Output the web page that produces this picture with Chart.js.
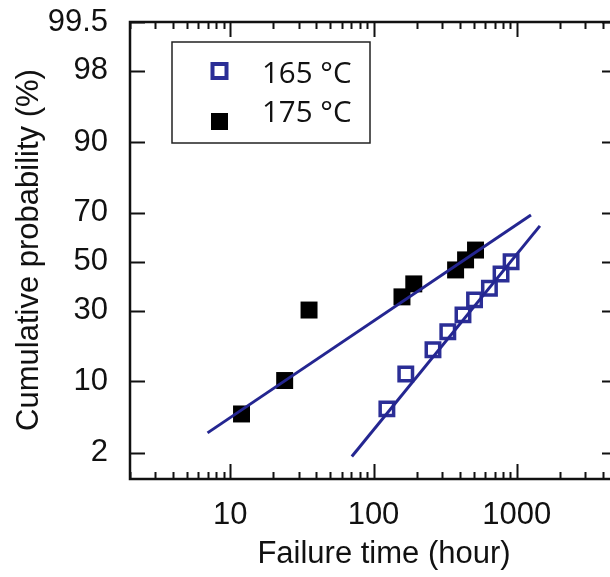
<!DOCTYPE html>
<html>
<head>
<meta charset="utf-8">
<script src="https://cdn.jsdelivr.net/npm/chart.js@4.4.1/dist/chart.umd.min.js"></script>
<style>
  html, body { margin: 0; padding: 0; background: #fff; overflow: hidden; }
  #wrap { width: 640px; height: 577px; }
</style>
</head>
<body>
<div id="wrap"><canvas id="myChart" width="640" height="577"></canvas></div>
<script>
// series names
const temps = ["165 °C", "175 °C"];

// 165 °C: failure time (hour) and cumulative probability (%)
const time165 = [124, 168, 260, 330, 421, 507, 644, 776, 912];
const prob165 = [5.7, 11.4, 17.2, 22.6, 28.4, 34.1, 38.8, 44.8, 50.0];

// 175 °C
const time175 = [12, 24, 35.5, 158, 191, 374, 439, 515];
const prob175 = [5.1, 10.1, 30.2, 35.3, 40.6, 46.5, 50.8, 55.0];

// fitted lines (end points)
const fit165Time = [70.6, 1449];
const fit165Prob = [1.82, 65];
const fit175Time = [6.95, 1255];
const fit175Prob = [3.3, 69.2];

// axis ticks
const xTicks = [10, 100, 1000];
const yTicks = [2, 10, 30, 50, 70, 90, 98, 99.5];
const xRange = [2, 5000];
const yRange = [0.98, 99.5];

const blue = "rgb(43, 46, 150)";
const lineBlue = "rgb(36, 38, 145)";
const tickFont = { family: '"Liberation Sans", Arial, sans-serif', size: 31 };

// inverse normal CDF (Acklam) -> probability paper scale
function probit(p) {
  const a = [-39.69683028665376, 220.9460984245205, -275.9285104469687, 138.357751867269, -30.66479806614716, 2.506628277459239];
  const b = [-54.47609879822406, 161.5858368580409, -155.6989798598866, 66.80131188771972, -13.28068155288572];
  const c = [-0.007784894002430293, -0.3223964580411365, -2.400758277161838, -2.549732539343734, 4.374664141464968, 2.938163982698783];
  const d = [0.007784695709041462, 0.3224671290700398, 2.445134137142996, 3.754408661907416];
  const pl = 0.02425;
  let q, r;
  if (p < pl) {
    q = Math.sqrt(-2 * Math.log(p));
    return (((((c[0] * q + c[1]) * q + c[2]) * q + c[3]) * q + c[4]) * q + c[5]) / ((((d[0] * q + d[1]) * q + d[2]) * q + d[3]) * q + 1);
  }
  if (p > 1 - pl) {
    q = Math.sqrt(-2 * Math.log(1 - p));
    return -(((((c[0] * q + c[1]) * q + c[2]) * q + c[3]) * q + c[4]) * q + c[5]) / ((((d[0] * q + d[1]) * q + d[2]) * q + d[3]) * q + 1);
  }
  q = p - 0.5;
  r = q * q;
  return (((((a[0] * r + a[1]) * r + a[2]) * r + a[3]) * r + a[4]) * r + a[5]) * q / (((((b[0] * r + b[1]) * r + b[2]) * r + b[3]) * r + b[4]) * r + 1);
}

const toPoints = (times, probs) => times.map((t, i) => ({ x: t, y: probit(probs[i] / 100) }));

// frame, inward ticks, axis titles and legend
const decor = {
  id: "decor",
  beforeDatasetsDraw(chart) {
    const { ctx, chartArea: a, scales } = chart;
    const xs = scales.x, ys = scales.y;
    ctx.save();
    ctx.strokeStyle = "#111";
    ctx.lineWidth = 2;
    // x ticks top and bottom
    for (let dec = 1; dec <= 1000; dec *= 10) {
      for (let m = 1; m <= 9; m++) {
        const v = m * dec;
        if (v < xRange[0] || v > xRange[1]) continue;
        const px = Math.round(xs.getPixelForValue(v)) + 0.5;
        const len = m === 1 ? 15 : 7;
        ctx.beginPath();
        ctx.moveTo(px, a.bottom); ctx.lineTo(px, a.bottom - len);
        ctx.moveTo(px, a.top); ctx.lineTo(px, a.top + len);
        ctx.stroke();
      }
    }
    // y ticks left and right
    yTicks.forEach((p) => {
      const py = Math.round(ys.getPixelForValue(probit(p / 100))) + 0.5;
      ctx.beginPath();
      ctx.moveTo(a.left, py); ctx.lineTo(a.left + 15, py);
      ctx.moveTo(a.right, py); ctx.lineTo(a.right - 15, py);
      ctx.stroke();
    });
    ctx.lineWidth = 2.5;
    ctx.strokeRect(a.left, a.top, a.right - a.left, a.bottom - a.top);

    // axis titles
    ctx.fillStyle = "#111";
    ctx.font = '31px "Liberation Sans", Arial, sans-serif';
    ctx.textAlign = "center";
    ctx.textBaseline = "middle";
    ctx.fillText("Failure time (hour)", 384, 554);
    ctx.translate(29, 250);
    ctx.rotate(-Math.PI / 2);
    ctx.fillText("Cumulative probability (%)", 0, 0);
    ctx.restore();
  },
  afterDraw(chart) {
    const { ctx } = chart;
    ctx.save();
    ctx.fillStyle = "#fff";
    ctx.fillRect(172, 42, 198, 101);
    ctx.strokeStyle = "#222";
    ctx.lineWidth = 1.5;
    ctx.strokeRect(172, 42, 198, 101);
    // 165 marker: open blue square
    ctx.strokeStyle = blue;
    ctx.lineWidth = 4;
    ctx.strokeRect(212.5, 64, 14, 14);
    // 175 marker: filled black square
    ctx.fillStyle = "#000";
    ctx.fillRect(211, 113, 17, 17);
    ctx.fillStyle = "#111";
    ctx.font = '29.5px "Open Sans", sans-serif';
    ctx.textAlign = "left";
    ctx.textBaseline = "alphabetic";
    ctx.fillText(temps[0], 262, 83);
    ctx.fillText(temps[1], 262, 122);
    ctx.restore();
  },
};

const ctx = document.getElementById("myChart").getContext("2d");
new Chart(ctx, {
  type: "scatter",
  data: {
    datasets: [
      {
        label: temps[0] + " fit",
        type: "line",
        data: toPoints(fit165Time, fit165Prob),
        borderColor: lineBlue,
        borderWidth: 3,
        pointRadius: 0,
        fill: false,
      },
      {
        label: temps[1] + " fit",
        type: "line",
        data: toPoints(fit175Time, fit175Prob),
        borderColor: lineBlue,
        borderWidth: 3,
        pointRadius: 0,
        fill: false,
      },
      {
        label: temps[0],
        data: toPoints(time165, prob165),
        pointStyle: "rect",
        pointRadius: 9.5,
        pointBorderWidth: 3.5,
        pointBorderColor: blue,
        pointBackgroundColor: "rgba(255,255,255,0)",
      },
      {
        label: temps[1],
        data: toPoints(time175, prob175),
        pointStyle: "rect",
        pointRadius: 12,
        pointBorderWidth: 0,
        pointBackgroundColor: "#000",
      },
    ],
  },
  options: {
    responsive: false,
    animation: false,
    events: [],
    layout: { padding: { top: 22, right: 23, left: 0, bottom: 0 } },
    plugins: { legend: { display: false }, tooltip: { enabled: false } },
    scales: {
      x: {
        type: "logarithmic",
        min: xRange[0],
        max: xRange[1],
        grid: { display: false },
        border: { display: false },
        afterBuildTicks: (axis) => { axis.ticks = xTicks.map((v) => ({ value: v })); },
        afterFit: (scale) => {
          scale.height = 98;
          scale.paddingLeft = 0;
          scale.paddingRight = 0;
        },
        ticks: {
          autoSkip: false,
          maxRotation: 0,
          padding: 10,
          color: "#111",
          font: tickFont,
          callback: (v) => String(v),
        },
      },
      y: {
        type: "linear",
        min: probit(yRange[0] / 100),
        max: probit(yRange[1] / 100),
        grid: { display: false },
        border: { display: false },
        afterBuildTicks: (axis) => { axis.ticks = yTicks.map((p) => ({ value: probit(p / 100) })); },
        afterFit: (scale) => {
          scale.width = 130;
          scale.paddingTop = 0;
          scale.paddingBottom = 0;
        },
        ticks: {
          autoSkip: false,
          padding: 14,
          color: "#111",
          font: tickFont,
          callback: function (v, i) { return String(yTicks[i]); },
        },
      },
    },
  },
  plugins: [decor],
});
</script>
</body>
</html>
